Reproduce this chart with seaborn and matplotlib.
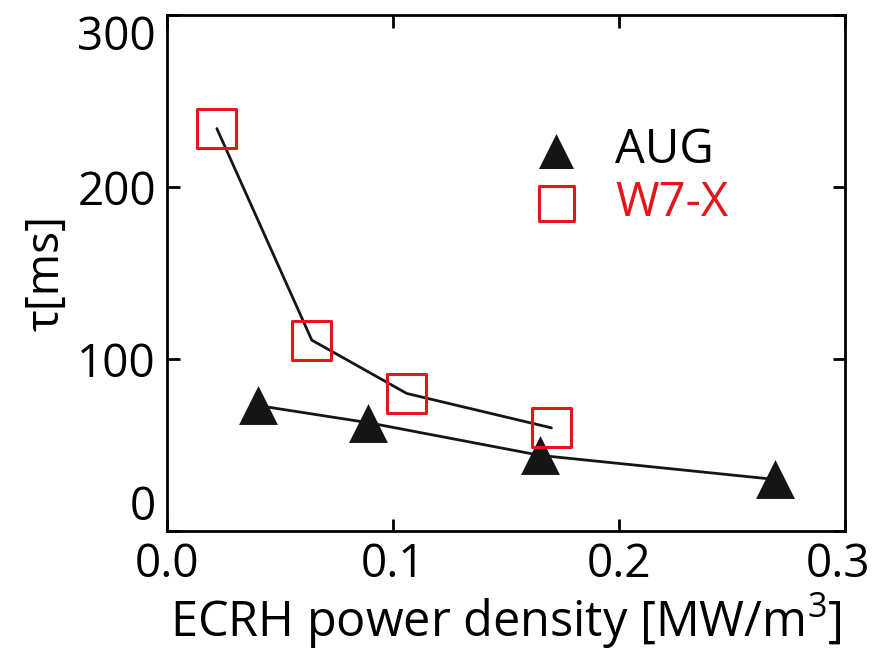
import matplotlib
matplotlib.use("Agg")
import matplotlib.pyplot as plt
from matplotlib.transforms import ScaledTranslation
import seaborn as sns

# values
aug_power = [0.040, 0.089, 0.165, 0.269]
aug_tau = [73, 63, 44, 30]
w7x_power = [0.022, 0.064, 0.106, 0.170]
w7x_tau = [234, 111, 80, 60]

x_ticks = [0.0, 0.1, 0.2, 0.3]
x_labels = ["0.0", "0.1", "0.2", "0.3"]
y_ticks = [0, 100, 200, 300]
y_labels = ["0", "100", "200", "300"]

red = "#e3161b"

sns.set_theme(style="ticks")
plt.rcParams["font.family"] = ["Open Sans", "DejaVu Sans"]
plt.rcParams["mathtext.fontset"] = "custom"
plt.rcParams["mathtext.rm"] = "Open Sans"

fig = plt.figure(figsize=(8.75, 6.54), dpi=100)
ax = fig.add_axes([0.191, 0.188, 0.775, 0.789])

# fit lines
sns.lineplot(x=w7x_power, y=w7x_tau, color="#151515", linewidth=2.0, ax=ax)
sns.lineplot(x=aug_power, y=aug_tau, color="#151515", linewidth=2.0, ax=ax)

# data points
sns.scatterplot(x=aug_power, y=aug_tau, marker="^", s=28**2, color="#151515",
                edgecolor="#151515", linewidth=0, label="AUG", ax=ax, zorder=3)
sns.scatterplot(x=w7x_power, y=w7x_tau, marker="s", s=28**2, facecolor="none",
                edgecolor=red, linewidth=2.2, label="W7-X", ax=ax, zorder=3)

ax.set_xlim(0, 0.3)
ax.set_ylim(0, 300)
ax.set_xticks(x_ticks, x_labels)
ax.set_yticks(y_ticks, y_labels)
lbls = ax.get_yticklabels()
lbls[0].set_va("bottom")
lbls[-1].set_va("top")

ax.tick_params(direction="in", length=9, width=2, labelsize=33, pad=8,
               top=True, right=True, colors="black")
# keep the last x label inside the figure
xl = ax.get_xticklabels()[-1]
xl.set_transform(xl.get_transform() + ScaledTranslation(-5 / 72, 0, fig.dpi_scale_trans))
for sp in ax.spines.values():
    sp.set_linewidth(2)
    sp.set_color("black")

ax.set_xlabel("ECRH power density [MW/m$^3$]", fontsize=35, labelpad=2,
              color="black")
ax.set_ylabel("\u03c4[ms]", fontsize=33, labelpad=6, color="black")

leg = ax.legend(loc="upper left", bbox_to_anchor=(0.476, 0.82), frameon=False,
                fontsize=34, handletextpad=0.25, labelspacing=0.1,
                borderaxespad=0, markerscale=0.9)
for txt, c in zip(leg.get_texts(), ["black", red]):
    txt.set_color(c)

fig.savefig("out.png", dpi=100)
